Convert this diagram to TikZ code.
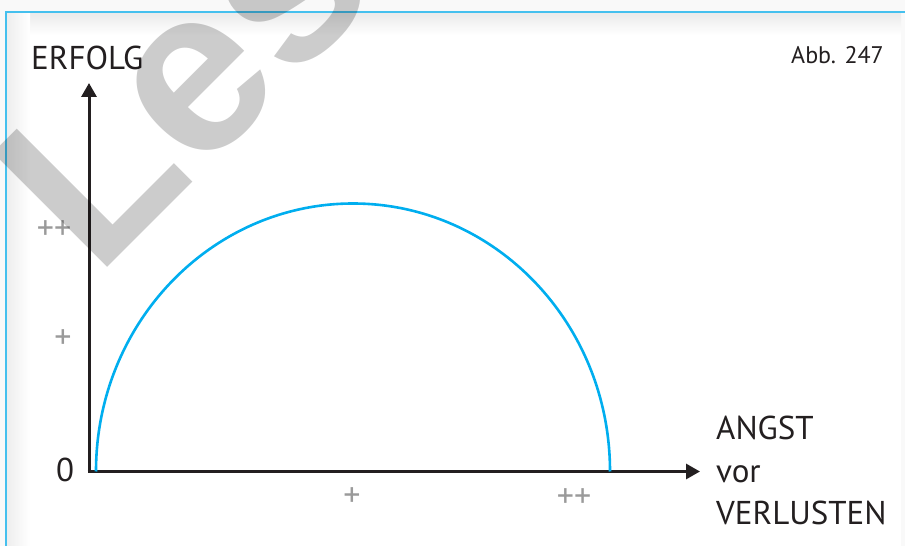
\documentclass[tikz,border=0pt]{standalone}
\usepackage{fontspec}
\setmainfont{PT Sans}
\newfontfamily\wasserfont{Liberation Sans}
\usepackage{tikz}
\usetikzlibrary{arrows.meta,calc}
\usepackage{xcolor}
\definecolor{kurvenblau}{HTML}{00AEEF}
\definecolor{rahmenblau}{HTML}{45C0EE}
\definecolor{skalagrau}{HTML}{9A9A9A}
\definecolor{textschwarz}{HTML}{231F20}

\tikzset{
  achse/.style={line width=3pt, textschwarz, -{Triangle[length=14pt,width=15pt]}},
  beschriftung/.style={inner sep=0pt, text=textschwarz, font=\fontsize{33}{40}\selectfont},
  skala/.style={inner sep=0pt, text=skalagrau, font=\fontsize{34}{40}\selectfont},
}

\begin{document}
\begin{tikzpicture}[x=1pt,y=1pt]
\useasboundingbox (0,0) rectangle (905,546);
\clip (0,0) rectangle (905,546);
% Hintergrund und Rahmen
\fill[gray!5] (0,0) rectangle (905,546);
\fill[white] (6,0) rectangle (901,533);
\shade[top color=gray!16, bottom color=white] (6,511) rectangle (901,533); % Schatten oben
\shade[left color=gray!14, right color=white] (6,0) rectangle (30,533); % Schatten links
\draw[rahmenblau, line width=2pt] (5.5,0) -- (5.5,534) -- (905,534);
% Achsen
\coordinate (O) at (89,74.5);
\coordinate (ytip) at (89,463);
\coordinate (xtip) at (700,74.5);
\draw[achse] ($(O)+(0,-1.5)$) -- (ytip);
\draw[achse] ($(O)+(-1.5,0)$) -- (xtip);
% Halbkreis
\draw[kurvenblau, line width=2.6pt] (96,74.5) arc (180:0:257 and 268);
% Beschriftung
\node[beschriftung, anchor=base west] (erfolg) at (31,476) {ERFOLG};
\node[inner sep=0pt, text=textschwarz, font=\fontsize{24}{28}\selectfont, anchor=base east] (abb) at (884,482) {Abb. 247};
\node[beschriftung, anchor=base] (null) at (65,64) {0};
\node[skala] (ypp) at (54,316) {++};
\node[skala] (yp) at (63,207) {+};
\node[skala] (xp) at (352,49) {+};
\node[skala] (xpp) at (574,48) {++};
\node[beschriftung, anchor=base west] (angst) at (716,106) {ANGST};
\node[beschriftung, anchor=base west] (vor) at (716,63) {vor};
\node[beschriftung, anchor=base west] (verlusten) at (716,21) {VERLUSTEN};
% Wasserzeichen
\node[rotate=45, anchor=base west, inner sep=0pt, text opacity=0.2,
      font=\wasserfont\bfseries\fontsize{235}{270}\selectfont] (wasserzeichen) at (96,267) {Leseprobe};
\end{tikzpicture}
\end{document}
